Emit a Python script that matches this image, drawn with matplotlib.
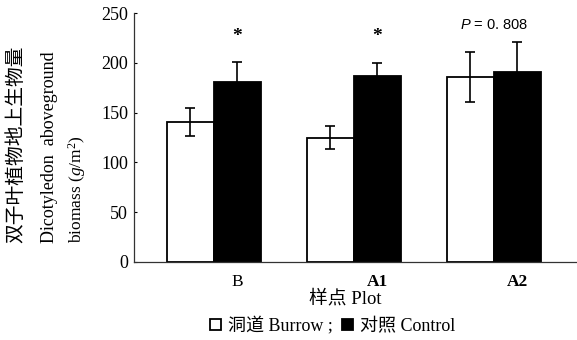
import matplotlib
matplotlib.use("Agg")
import matplotlib.pyplot as plt
import numpy as np

# Data
plots = ["B", "A1", "A2"]
burrow = [141, 125, 186]
burrow_err = [14, 12, 25]
control = [181, 187, 191]
control_err = [20, 13, 30]
signif = ["*", "*", ""]
p_text = "0. 808"

plt.rcParams['mathtext.fontset'] = 'custom'
plt.rcParams['mathtext.rm'] = 'Liberation Serif'
plt.rcParams['mathtext.it'] = 'Liberation Serif:italic'
plt.rcParams['mathtext.sf'] = 'Liberation Sans:italic'

serif = ['Liberation Serif', 'Noto Sans CJK SC', 'DejaVu Sans']

fig = plt.figure(figsize=(5.77, 3.40), dpi=100)
ax = fig.add_axes([134/577, 1-262/340, (577-134)/577, (262-13)/340])

x = np.arange(len(plots))
w = 0.336
b1 = ax.bar(x - w/2, burrow, w, color='white', edgecolor='black', linewidth=1.3,
            yerr=burrow_err, error_kw=dict(ecolor='black', elinewidth=1.2, capsize=3.6, capthick=1.2),
            label='洞道 Burrow ;')
b2 = ax.bar(x + w/2, control, w, color='black', edgecolor='black', linewidth=1.3,
            yerr=control_err, error_kw=dict(ecolor='black', elinewidth=1.2, capsize=3.6, capthick=1.2),
            label='对照 Control')

for i, s in enumerate(signif):
    if s:
        ax.text(x[i] + w/2, 226, s, ha='center', va='center', fontsize=14,
                fontweight='bold', family=serif)
ax.text(x[2], 238, r'$\mathsf{P}$ = ' + p_text, ha='center', va='center',
        fontsize=10.5, family=['Liberation Sans'])

ax.set_xlim(-0.571, 2.593)
ax.set_ylim(0, 250)
ax.set_yticks([0, 50, 100, 150, 200, 250])
ax.tick_params(axis='y', direction='in', length=2.5, width=0.8, pad=4.3, labelsize=13)
for lab in ax.get_yticklabels():
    lab.set_family(serif)

ax.set_xticks(x + 0.17)
ax.set_xticklabels(plots)
ax.tick_params(axis='x', length=0, pad=9, labelsize=12.5)
for i, lab in enumerate(ax.get_xticklabels()):
    lab.set_family(serif)
    if i > 0:
        lab.set_fontweight('bold')

for s in ['top', 'right']:
    ax.spines[s].set_visible(False)
ax.spines['left'].set_color('#333333')
ax.spines['left'].set_linewidth(0.9)
ax.spines['bottom'].set_color('#333333')
ax.spines['bottom'].set_linewidth(0.9)

# axis titles
fig.text(345/577, 1-299/340, '样点 Plot', ha='center', va='center', fontsize=13.5, family=serif)
fig.text(17/577, 1-243/340, '双子叶植物地上生物量', rotation=90, ha='center', va='bottom',
         fontsize=14.2, family=serif)
fig.text(50/577, 1-243/340, 'Dicotyledon  aboveground', rotation=90, ha='center', va='bottom',
         fontsize=13, family=serif)
fig.text(77/577, 1-243/340, r'biomass ($g$/m$^{2}$)', rotation=90, ha='center', va='bottom',
         fontsize=12.5, family=serif)

fig.legend(handles=[b1, b2], loc='center', bbox_to_anchor=(333/577, 1-326/340), ncol=2,
           frameon=False, handlelength=0.6, handleheight=0.6, handletextpad=0.4,
           columnspacing=0.5, prop=dict(family=serif, size=13), borderpad=0)

fig.savefig('out.png', dpi=100)
